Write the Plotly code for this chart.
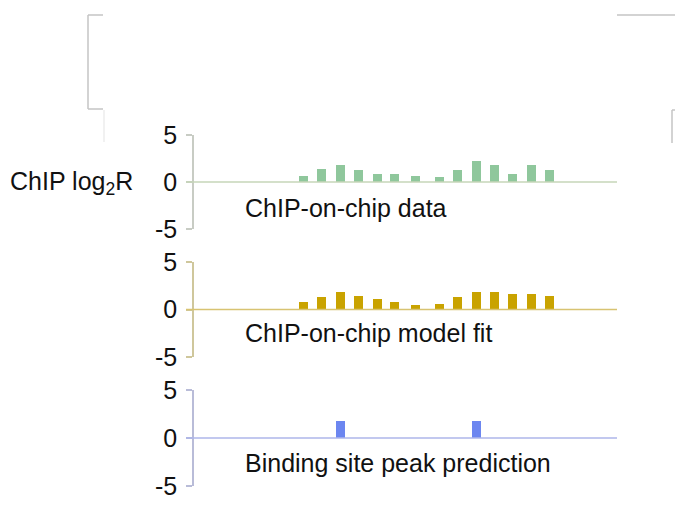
import plotly.graph_objects as go

# Probe positions along the region (bp) and log2 ratios per track
positions = [545, 635, 730, 820, 915, 1000, 1105, 1225, 1315, 1410, 1500, 1590, 1685, 1775]
chip_data = [0.6, 1.4, 1.8, 1.25, 0.9, 0.9, 0.6, 0.55, 1.25, 2.25, 1.8, 0.9, 1.8, 1.25]
model_fit = [0.8, 1.3, 1.8, 1.45, 1.1, 0.8, 0.45, 0.6, 1.3, 1.8, 1.8, 1.6, 1.6, 1.45]
peak_positions = [730, 1410]
peak_heights = [1.8, 1.8]

track_titles = ["ChIP-on-chip data", "ChIP-on-chip model fit", "Binding site peak prediction"]
y_ticks = [-5, 0, 5]
y_tick_text = ["-5", "0", "5"]

bar_colors = ["#8fc79c", "#c9a300", "#6c86f0"]
axis_colors = ["#c8ccc4", "#cfc79c", "#b9bcd8"]
zero_colors = ["#c6d6b8", "#d8c372", "#aeb6ea"]

W, H = 675, 510
FONT = "Liberation Sans, Arial, sans-serif"
FS = 25


def px_x(v):
    return v / W


def px_y(v):
    return 1 - v / H


x_range = [0, 2115]
x_dom = [px_x(194), px_x(617)]
# vertical pixel extents (top = +5 tick, bottom = -5 tick) for each track
y_px = [(135, 229), (262, 357), (390, 486)]

fig = go.Figure()

series = [(positions, chip_data), (positions, model_fit), (peak_positions, peak_heights)]
for i, (xs, ys) in enumerate(series):
    n = "" if i == 0 else str(i + 1)
    fig.add_trace(go.Bar(
        x=xs, y=ys, width=45, marker_color=bar_colors[i], marker_line_width=0,
        xaxis="x" + n, yaxis="y" + n, showlegend=False,
    ))
    top, bot = y_px[i]
    fig.layout["xaxis" + n] = dict(
        domain=x_dom, range=x_range, anchor="y" + n, visible=False,
        fixedrange=True, automargin=False,
    )
    fig.layout["yaxis" + n] = dict(
        domain=[px_y(bot), px_y(top)], range=[-5, 5], anchor="x" + n,
        tickvals=y_ticks, ticktext=y_tick_text, ticks="outside", ticklen=6,
        tickwidth=1.5, tickcolor=axis_colors[i], showline=True, linewidth=1.5,
        linecolor=axis_colors[i], showgrid=False, zeroline=False,
        tickfont=dict(family=FONT, size=FS, color="#111111"),
        ticklabelstandoff=4, automargin=False, fixedrange=True,
    )
    # zero baseline, running slightly left of the axis
    fig.add_shape(type="line", xref="paper", yref="y" + n,
                  x0=px_x(186), x1=px_x(617), y0=0, y1=0,
                  line=dict(color=zero_colors[i], width=1.5))
    fig.add_annotation(
        text=track_titles[i], xref="paper", yref="paper",
        x=px_x(243), y=px_y([208, 333, 463][i]), xanchor="left", yanchor="middle",
        showarrow=False, font=dict(family=FONT, size=FS, color="#111111"),
    )

fig.add_annotation(
    text="ChIP log<sub>2</sub>R", xref="paper", yref="paper",
    x=px_x(8), y=px_y(183), xanchor="left", yanchor="middle",
    showarrow=False, font=dict(family=FONT, size=FS, color="#111111"),
)

# frame brackets above the tracks
frame = "#c4c4c4"
for x0, y0, x1, y1, c in [
    (88, 15, 88, 109, frame),
    (88, 15, 103, 15, frame),
    (88, 109, 103, 109, frame),
    (104, 110, 104, 142, "#ececec"),
    (617, 15, 675, 15, frame),
    (672, 110, 672, 143, frame),
    (672, 110, 675, 110, frame),
]:
    fig.add_shape(type="line", xref="paper", yref="paper",
                  x0=px_x(x0), x1=px_x(x1), y0=px_y(y0), y1=px_y(y1),
                  line=dict(color=c, width=1.5))

fig.update_layout(
    width=W, height=H, margin=dict(l=0, r=0, t=0, b=0, autoexpand=False),
    paper_bgcolor="white", plot_bgcolor="white", bargap=0,
)

fig.write_html("out.html")
